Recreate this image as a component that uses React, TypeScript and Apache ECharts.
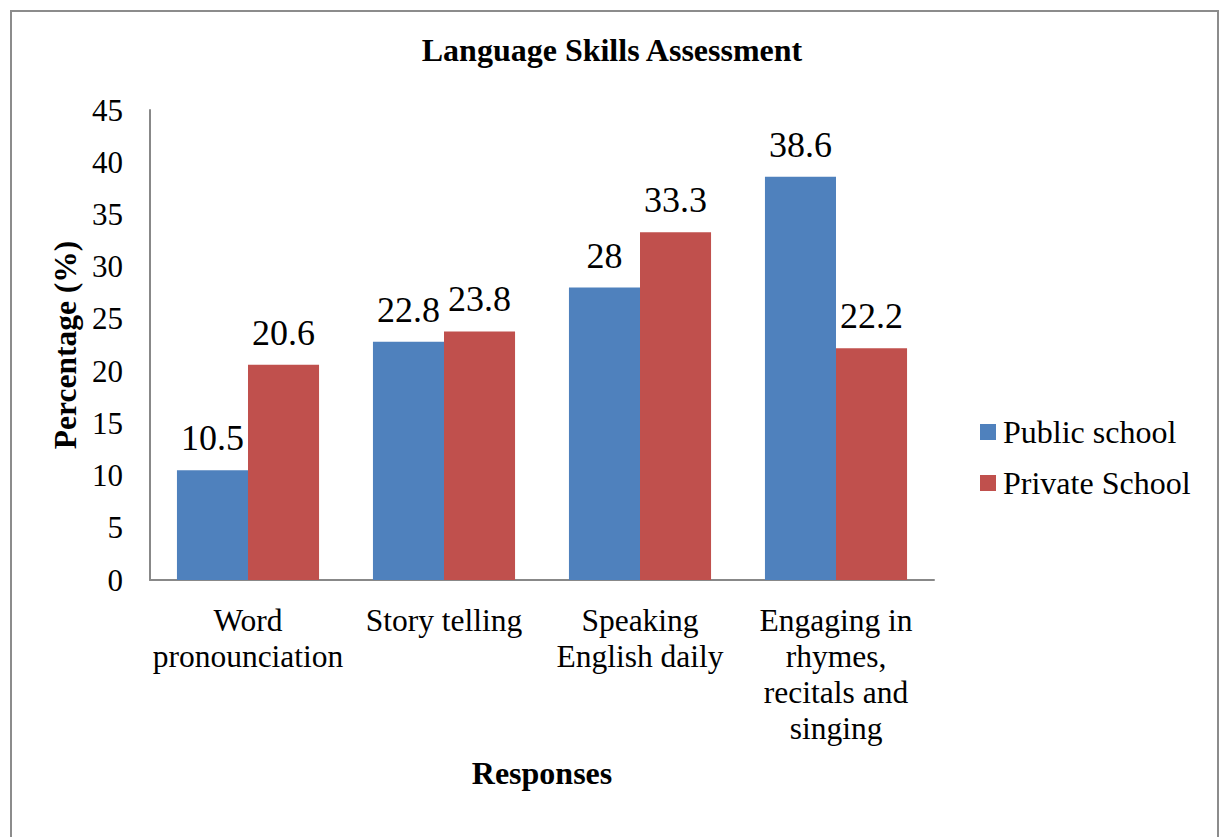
import React, { useEffect, useRef } from "react";
import * as echarts from "echarts";

const categories = [
  "Word\npronounciation",
  "Story telling",
  "Speaking\nEnglish daily",
  "Engaging in\nrhymes,\nrecitals and\nsinging",
];
const publicSchool = [10.5, 22.8, 28, 38.6];
const privateSchool = [20.6, 23.8, 33.3, 22.2];
const seriesNames = ["Public school", "Private School"];

const FONT = "'Liberation Serif', 'Times New Roman', serif";

export default function App() {
  const ref = useRef<HTMLDivElement>(null);
  useEffect(() => {
    if (!ref.current) return;
    const chart = echarts.init(ref.current, undefined, { renderer: "svg" });
    const labelStyle = {
      show: true,
      position: "top" as const,
      distance: 14,
      fontFamily: FONT,
      fontSize: 36,
      color: "#000",
    };
    chart.setOption({
      animation: false,
      backgroundColor: "#fff",
      textStyle: { fontFamily: FONT },
      title: {
        text: "Language Skills Assessment",
        left: "center",
        top: 29,
        textStyle: { fontFamily: FONT, fontSize: 32, fontWeight: "bold", color: "#000" },
      },
      graphic: [
        {
          type: "rect",
          shape: { x: 11, y: 11, width: 1207, height: 900 },
          style: { fill: "none", stroke: "#8c8c8c", lineWidth: 2 },
          silent: true,
        },
      ],
      legend: {
        orient: "vertical",
        left: 975,
        top: 411,
        itemWidth: 16,
        itemHeight: 16,
        itemGap: 19,
        icon: "rect",
        textStyle: { fontFamily: FONT, fontSize: 32, color: "#000", padding: [0, 0, 0, 2] },
        data: seriesNames,
      },
      grid: { left: 150, right: 290, top: 110, bottom: 257, containLabel: false },
      xAxis: {
        type: "category",
        data: categories,
        name: "Responses",
        nameLocation: "middle",
        nameGap: 177,
        nameTextStyle: { fontFamily: FONT, fontSize: 32, fontWeight: "bold", color: "#000" },
        axisLine: { lineStyle: { color: "#888", width: 2 } },
        axisTick: { show: false },
        axisLabel: {
          interval: 0,
          margin: 22,
          fontFamily: FONT,
          fontSize: 31.5,
          lineHeight: 36,
          color: "#000",
        },
      },
      yAxis: {
        type: "value",
        min: 0,
        max: 45,
        interval: 5,
        name: "Percentage (%)",
        nameLocation: "middle",
        nameGap: 67,
        nameTextStyle: { fontFamily: FONT, fontSize: 31.5, fontWeight: "bold", color: "#000" },
        axisLine: { show: true, lineStyle: { color: "#888", width: 2 } },
        axisTick: { show: false },
        splitLine: { show: false },
        axisLabel: { margin: 27, fontFamily: FONT, fontSize: 31, color: "#000" },
      },
      series: [
        {
          name: seriesNames[0],
          type: "bar",
          data: publicSchool,
          barGap: "0%",
          barCategoryGap: "27.5%",
          itemStyle: { color: "#4F81BD" },
          label: labelStyle,
        },
        {
          name: seriesNames[1],
          type: "bar",
          data: privateSchool,
          barGap: "0%",
          barCategoryGap: "27.5%",
          itemStyle: { color: "#C0504D" },
          label: labelStyle,
        },
      ],
    });
    return () => chart.dispose();
  }, []);
  return (
    <div
      ref={ref}
      style={{ position: "absolute", left: 0, top: 0, width: 1224, height: 837 }}
    />
  );
}
